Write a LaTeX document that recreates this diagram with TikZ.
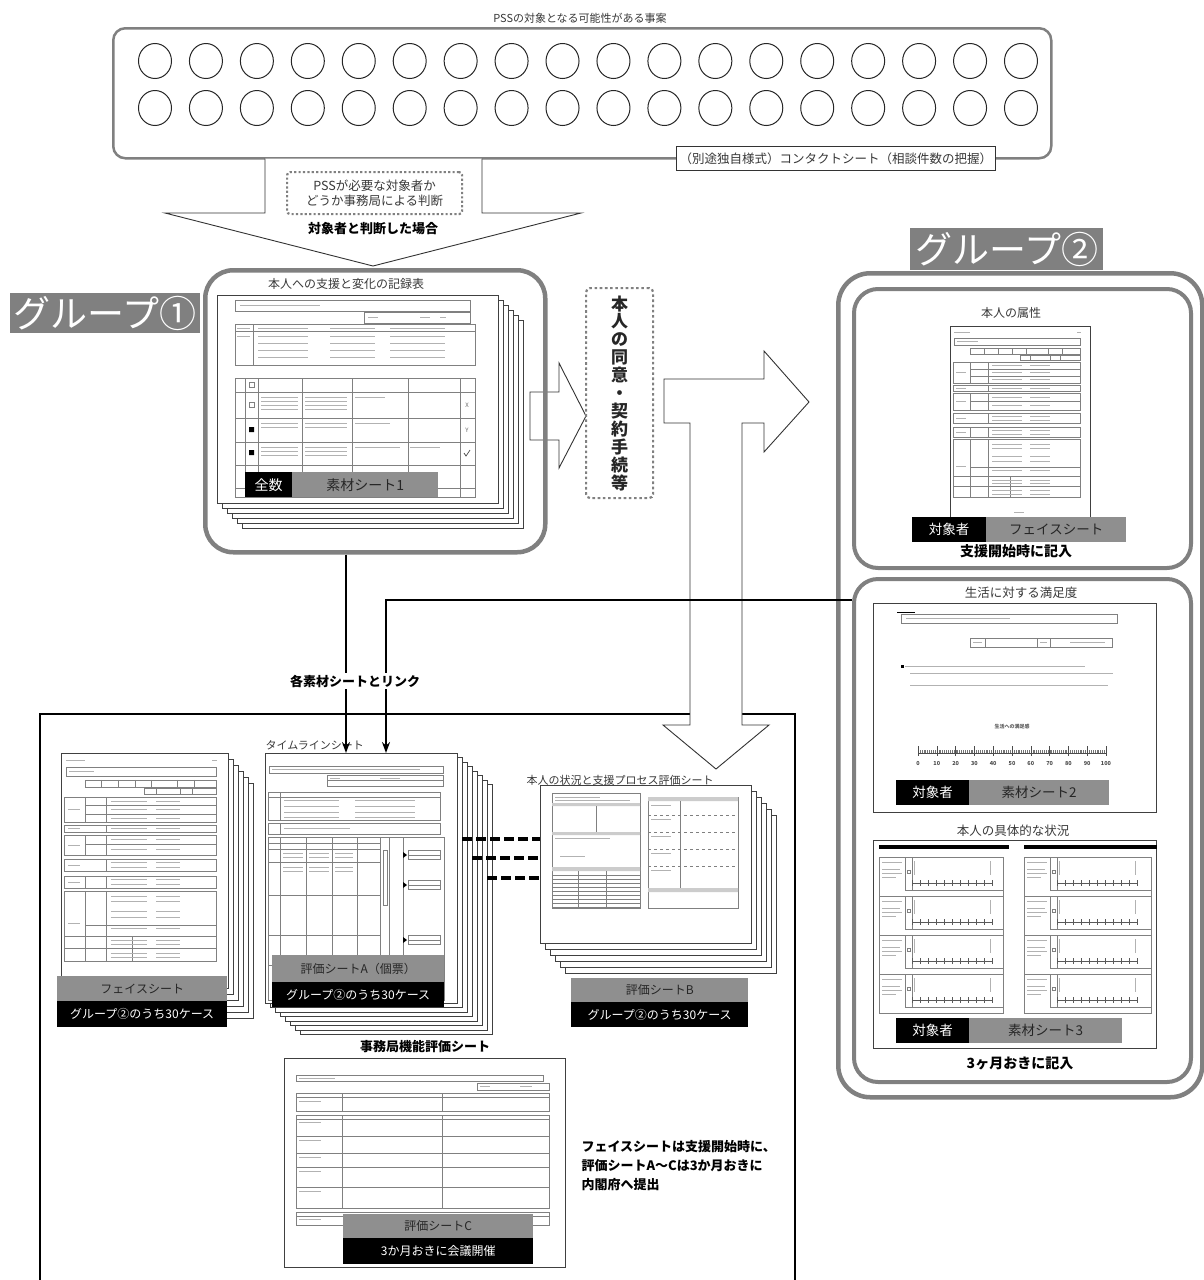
\documentclass[tikz,border=0pt]{standalone}
\usepackage{fontspec}
\setmainfont{Noto Sans CJK JP}
\usetikzlibrary{positioning, shapes.geometric, arrows.meta}

\definecolor{framegray}{gray}{0.5}
\definecolor{taggray}{gray}{0.56}
\definecolor{inkgray}{gray}{0.22}

\newcommand{\fsz}[1]{\fontsize{#1}{#1}\selectfont}

\tikzset{
    groupframe/.style={
        draw=framegray, % 灰色粗边框
        line width=4.5pt,
        rounded corners=28pt,
        anchor=north west
    },
    grouptag/.style={
        fill=framegray, % 灰底白字
        text=white,
        font=\fsz{37},
        inner sep=0pt,
        anchor=north west
    },
    sheetpage/.style={
        draw=black!75,
        fill=white,
        line width=0.7pt
    },
    graytag/.style={
        fill=taggray,
        text=black!85,
        inner sep=0pt,
        anchor=north west,
        font=\fsz{12}
    },
    blacktag/.style={
        fill=black,
        text=white,
        inner sep=0pt,
        anchor=north west,
        font=\fsz{12}
    },
    sheettitle/.style={text=inkgray, font=\fsz{11.5}},
    notetext/.style={text=black, font=\bfseries\fsz{13}},
    caseball/.style={ellipse, draw=black!85, line width=1pt, minimum width=33pt, minimum height=35pt},
    rule/.style={draw=black!50, line width=0.35pt},
    scrib/.style={draw=black!30, line width=1pt},
    link/.style={line width=2.6pt, -{Stealth[length=11pt,width=8pt]}},
    dashlink/.style={line width=3.5pt, dash pattern=on 10pt off 4pt},
    bigarrow/.style={draw=black!80, fill=white, line width=0.9pt, line join=miter}
}

% 缩略的フェイスシート (140 x 192)
\newcommand{\facebody}{%
    \draw[scrib] (4,6) -- (20,6) (127,6) -- (131,6);
    \draw[rule] (4,12) rectangle (130,19);
    \draw[scrib] (7,15.5) -- (28,15.5);
    \draw[rule] (20,22) rectangle (130,28) (70,29) rectangle (130,34);
    \foreach \xx in {34,48,62,76,98,112} \draw[rule] (\xx,22) -- (\xx,28);
    \foreach \xx in {80,100,110} \draw[rule] (\xx,29) -- (\xx,34);
    \foreach \ya/\yb in {36/57, 59/65, 67/84, 87/97, 101/111, 113/171}
        \draw[rule] (3,\ya) rectangle (130,\yb) (38,\ya) -- (38,\yb);
    \draw[rule] (20,36) -- (20,57) (20,43) -- (130,43) (20,50) -- (130,50);
    \draw[rule] (20,67) -- (20,84) (20,75) -- (130,75);
    \draw[rule] (20,101) -- (20,111);
    \draw[rule] (20,113) -- (20,171) (20,141) -- (130,141) (3,150) -- (130,150) (3,160) -- (130,160) (60,150) -- (60,171);
    \foreach \yy in {39.5,46.5,53.5,62,71,79,90,94,104,108,118,122,130,135,144,154,157,164,168}
        \draw[scrib] (42,\yy) -- ++(30,0) (80,\yy) -- ++(20,0);
    \foreach \yy in {46.5,62,75.5,92,106,140}
        \draw[scrib] (6,\yy) -- ++(10,0);
    \draw[scrib] (64,186) -- (74,186);
}

\begin{document}
\begin{tikzpicture}[x=1pt, y=-1pt]
\useasboundingbox (0,0) rectangle (1203,1280);

% 事案一覧
\node[draw=framegray, line width=2.5pt, rounded corners=12pt, minimum width=938pt, minimum height=130pt, anchor=north west] (cases) at (112,27) {};
\node[sheettitle, font=\fsz{11}, anchor=south] (casestitle) at (580,27) {PSSの対象となる可能性がある事案};
\foreach \r/\yy in {1/61, 2/108}
    \foreach \i in {0,...,17}
        \node[caseball] (case\r-\i) at ({155+50.94*\i}, \yy) {};
\node[draw=black!80, fill=white, line width=0.8pt, minimum width=319pt, minimum height=24pt, anchor=north west, font=\fsz{12.5}, text=inkgray] (contact) at (676,146) {（別途独自様式）コンタクトシート（相談件数の把握）};

% 判断の矢印
\draw[bigarrow] (265,158.5) -- (265,213) -- (165,213) -- (373,266) -- (581,213) -- (482,213) -- (482,158.5);
\node[draw=framegray, line width=2.2pt, dash pattern=on 2.2pt off 2.2pt, rounded corners=3pt, minimum width=175pt, minimum height=42pt, anchor=north west, align=center, text=inkgray, font={\fontsize{12.5}{15.5}\selectfont}] (judge) at (286,171) {PSSが必要な対象者か\\どうか事務局による判断};
\node[notetext] (judged) at (373,229) {対象者と判断した場合};

% 下部の枠
\draw[line width=1.6pt] (40,1290) -- (40,714) -- (795,714) -- (795,1290);

% グループ①
\draw[bigarrow] (530,392) -- (559,392) -- (559,363) -- (586,416) -- (559,468) -- (559,440) -- (530,440) -- cycle;
\node[groupframe, minimum width=340pt, minimum height=282pt] (g1box) at (203,268) {};
\node[grouptag, minimum width=190pt, minimum height=40pt] (g1tag) at (10,293) {グループ①};
\node[sheettitle, font=\fsz{12}] (rectitle) at (346,284) {本人への支援と変化の記録表};
\foreach \k in {5,4,...,1}
    \draw[sheetpage] ({217+5*\k},{295+5*\k}) rectangle ++(281,208);
\node[sheetpage, minimum width=281pt, minimum height=208pt, anchor=north west] (rec) at (217,295) {};
\draw[rule] (235,300) rectangle (470,311) (364,312) rectangle (470,323);
\draw[rule] (235,324) rectangle (475,365) (253,324) -- (253,365) (235,331) -- (475,331);
\draw[rule] (235,378) rectangle (475,497);
\foreach \xx in {245,258,302,352,408,460} \draw[rule] (\xx,378) -- (\xx,497);
\foreach \yy in {392,418,442,465,488} \draw[rule] (235,\yy) -- (475,\yy);
\draw[scrib] (240,305.5) -- (320,305.5) (368,317) -- (378,317) (420,317) -- (430,317) (440,317) -- (446,317);
\foreach \yy in {328,336,343,350,357}
    \draw[scrib] (258,\yy) -- ++(50,0) (330,\yy) -- ++(45,0) (390,\yy) -- ++(55,0);
\draw[scrib] (237,328) -- (250,328) (237,336) -- (250,336);
\foreach \yy in {397,401,405,409,423,427,447,451,455}
    \draw[scrib] (261,\yy) -- ++(37,0) (305,\yy) -- ++(42,0);
\draw[scrib] (355,397) -- (385,397) (355,423) -- (390,423) (355,447) -- (400,447) (410,447) -- (440,447);
\draw[rule] (249,382) rectangle ++(5,5) (249,402) rectangle ++(5,5);
\fill (249,427) rectangle ++(5,5) (249,450) rectangle ++(5,5);
\node[font=\fsz{6}, text=black!60] (markx) at (467,405) {X};
\node[font=\fsz{6}, text=black!60] (marky) at (467,430) {Y};
\draw[black!70, line width=0.7pt] (464,453) -- (466,456) -- (470,450);
\node[blacktag, font=\fsz{14}, minimum width=47pt, minimum height=25pt] (all) at (245,472) {全数};
\node[graytag, font=\fsz{14}, minimum width=146pt, minimum height=25pt] (mat1) at (292,472) {素材シート1};

% 同意
\node[draw=framegray, line width=2.2pt, dash pattern=on 2.6pt off 2.6pt, rounded corners=4pt, minimum width=67pt, minimum height=210pt, anchor=north west, align=center, text=black!85, font={\bfseries\fontsize{17}{17.9}\selectfont}] (consent) at (585,287) {本\\人\\の\\同\\意\\・\\契\\約\\手\\続\\等};

% T字の矢印
\draw[bigarrow] (664,379) -- (764,379) -- (764,351) -- (809,402) -- (764,452) -- (764,423) -- (742,423) -- (742,725) -- (769,725) -- (716,769) -- (663,725) -- (690,725) -- (690,423) -- (664,423) -- cycle;

% グループ②
\node[groupframe, minimum width=364pt, minimum height=824pt, rounded corners=32pt] (g2box) at (836,271) {};
\node[grouptag, minimum width=193pt, minimum height=42pt] (g2tag) at (910,228) {グループ②};
\node[groupframe, line width=4pt, minimum width=337pt, minimum height=279pt, rounded corners=24pt] (g2boxA) at (852,287) {};
\node[groupframe, line width=4pt, minimum width=337pt, minimum height=503pt, rounded corners=24pt] (g2boxB) at (852,577) {};

% 本人の属性
\node[sheettitle, font=\fsz{12}] (attrtitle) at (1011,313) {本人の属性};
\node[sheetpage, minimum width=140pt, minimum height=192pt, anchor=north west] (face2) at (950,326) {};
\begin{scope}[shift={(950,326)}]
    \facebody
\end{scope}
\node[blacktag, font=\fsz{13.5}, minimum width=74pt, minimum height=25pt] (obj1) at (912,517) {対象者};
\node[graytag, font=\fsz{13.5}, minimum width=140pt, minimum height=25pt] (facetag2) at (986,517) {フェイスシート};
\node[notetext, font=\bfseries\fsz{14}] (atstart) at (1016,551) {支援開始時に記入};

% 生活に対する満足度
\node[sheettitle, font=\fsz{12.5}] (sattitle) at (1021,593) {生活に対する満足度};
\node[sheetpage, minimum width=283pt, minimum height=209pt, anchor=north west] (sat) at (873,603) {};
\draw[line width=1pt] (897,612) -- (915,612);
\draw[rule] (901,614) rectangle (1117,623) (970,638) rectangle (1112,647);
\draw[rule] (985,638) -- (985,647) (1037,638) -- (1037,647) (1050,638) -- (1050,647);
\draw[scrib] (906,618.5) -- (1010,618.5) (973,642.5) -- (982,642.5) (1040,642.5) -- (1047,642.5) (1070,642.5) -- (1105,642.5);
\fill (901,664.5) rectangle ++(3,3);
\draw[scrib] (905,666) -- (1085,666) (910,673) -- (1113,673) (910,685) -- (1108,685);
\node[font=\bfseries\fsz{5}, text=black!65] (satcap) at (1012,727) {生活への満足感};
\draw[black!70, line width=0.6pt] (918,753) -- (1106,753);
\foreach \m in {0,...,100}
    \draw[black!55, line width=0.2pt] ({918+1.88*\m},750) -- ({918+1.88*\m},753);
\foreach \t [count=\c from 0] in {0,10,...,100} {
    \draw[black!70, line width=0.6pt] ({918+18.8*\c},746) -- ({918+18.8*\c},756);
    \node[font=\bfseries\fsz{5.5}, text=black!70] (tick\c) at ({918+18.8*\c},763) {\t};
}
\node[blacktag, font=\fsz{13.5}, minimum width=73pt, minimum height=25pt] (obj2) at (896,780) {対象者};
\node[graytag, font=\fsz{13.5}, minimum width=140pt, minimum height=25pt] (mat2) at (969,780) {素材シート2};

% 本人の具体的な状況
\node[sheettitle, font=\fsz{12.5}] (situtitle) at (1013,831) {本人の具体的な状況};
\node[sheetpage, minimum width=283pt, minimum height=208pt, anchor=north west] (situ) at (873,840) {};
\foreach \px/\pw/\ax/\bx in {879/124/912/992, 1024/127/1057/1137} {
    \fill ({\px},845) rectangle ++({\pw+6},3.5);
    \foreach \ry in {857,896,935,974} {
        \draw[rule] ({\px},\ry) rectangle ++(\pw,39);
        \draw[rule] ({\px+26},\ry) -- ++(0,33) ({\px+33},\ry) -- ++(0,33) ({\px+26},{\ry+33}) -- ({\px+\pw},{\ry+33});
        \draw[rule] ({\px+28},{\ry+13}) rectangle ++(3,3);
        \draw[black!65, line width=0.6pt] (\ax,{\ry+26}) -- (\bx,{\ry+26});
        \foreach \t in {0,...,10}
            \draw[black!65, line width=0.4pt] ({\ax+(\bx-\ax)*\t/10},{\ry+23}) -- ++(0,6);
        \draw[scrib] ({\ax+2},{\ry+4}) -- ++(0,14) ({\bx-2},{\ry+4}) -- ++(0,14);
        \draw[scrib] ({\px+3},{\ry+5}) -- ++(20,0) ({\px+3},{\ry+12}) -- ++(18,0) ({\px+3},{\ry+16}) -- ++(20,0) ({\px+3},{\ry+20}) -- ++(14,0);
    }
}
\node[blacktag, font=\fsz{13.5}, minimum width=73pt, minimum height=25pt] (obj3) at (896,1018) {対象者};
\node[graytag, font=\fsz{13.5}, minimum width=153pt, minimum height=25pt] (mat3) at (969,1018) {素材シート3};
\node[notetext, font=\bfseries\fsz{14}] (every3) at (1020,1063) {3ヶ月おきに記入};

% フェイスシート (下部)
\foreach \k in {5,4,...,1}
    \draw[sheetpage] ({61+5*\k},{753+6*\k}) rectangle ++(167,235);
\node[sheetpage, minimum width=167pt, minimum height=235pt, anchor=north west] (face1) at (61,753) {};
\begin{scope}[shift={(61,753)}, xscale=1.19, yscale=1.22]
    \facebody
\end{scope}
\node[graytag, minimum width=170pt, minimum height=25pt] (facetag1) at (57,976) {フェイスシート};
\node[blacktag, minimum width=170pt, minimum height=26pt] (grp1) at (57,1001) {グループ②のうち30ケース};

% タイムラインシート
\node[sheettitle, font=\fsz{11}, anchor=west] (tltitle) at (262,745) {タイムラインシート};
\foreach \k in {7,6,...,1}
    \draw[sheetpage] ({265+5*\k},{753+4.5*\k}) rectangle ++(192,250);
\node[sheetpage, minimum width=192pt, minimum height=250pt, anchor=north west] (tl) at (265,753) {};
\draw[rule] (269,766) rectangle (443,773) (327,775) rectangle (443,786) (327,780.5) -- (443,780.5);
\draw[rule] (268,792) rectangle (440,820) (280,792) -- (280,820) (268,797) -- (440,797);
\draw[rule] (268,823) rectangle (440,834) (280,823) -- (280,834);
\draw[rule] (268,837) rectangle (444,1000);
\foreach \xx in {280,306,332,357,380,389,403} \draw[rule] (\xx,837) -- (\xx,1000);
\foreach \yy in {843,849,862,895,935,965} \draw[rule] (268,\yy) -- (380,\yy);
\draw[rule] (383,850) rectangle (387,905);
\foreach \yy in {855,885,940} {
    \fill (403,{\yy-3}) -- (407,\yy) -- (403,{\yy+3}) -- cycle;
    \draw[rule] (408,{\yy-5}) rectangle (440,{\yy+4}) (408,\yy) -- (440,\yy);
}
\draw[scrib] (272,769.5) -- (420,769.5) (330,778) -- (340,778) (380,778) -- (400,778);
\foreach \yy in {800,806,812,817}
    \draw[scrib] (284,\yy) -- ++(55,0) (355,\yy) -- ++(60,0);
\draw[scrib] (284,828) -- (350,828);
\foreach \yy in {853,857,867,871}
    \draw[scrib] (283,\yy) -- ++(20,0) (309,\yy) -- ++(20,0) (335,\yy) -- ++(18,0);
\node[graytag, minimum width=172pt, minimum height=27pt] (evatag) at (272,955) {評価シートA（個票）};
\node[blacktag, minimum width=172pt, minimum height=25pt] (grp2) at (272,982) {グループ②のうち30ケース};

% 評価シートB
\node[sheettitle, font=\fsz{11}] (evbtitle) at (620,780) {本人の状況と支援プロセス評価シート};
\foreach \k in {5,4,...,1}
    \draw[sheetpage] ({540+5*\k},{785+6*\k}) rectangle ++(211,158);
\node[sheetpage, minimum width=211pt, minimum height=158pt, anchor=north west] (evb) at (540,785) {};
\draw[rule] (552,793) rectangle (640,908);
\fill[black!20] (552,803) rectangle (640,806) (552,832) rectangle (640,835) (552,867) rectangle (640,871);
\draw[rule] (596,806) -- (596,832) (578,871) -- (578,908) (606,871) -- (606,908);
\foreach \yy in {875,879,...,907} \draw[rule] (552,\yy) -- (640,\yy);
\draw[scrib] (555,797) -- (600,797) (555,800) -- (630,800) (555,838) -- (610,838) (560,856) -- (585,856);
\draw[rule] (648,797) rectangle (738,908);
\fill[black!20] (648,797) rectangle (738,801) (648,888) rectangle (738,892);
\draw[rule] (680,801) -- (680,888);
\foreach \yy in {815,832,849,866} \draw[rule, dashed] (648,\yy) -- (738,\yy);
\foreach \yy in {805,819,836,853,870} \draw[scrib] (651,\yy) -- ++(20,0);
\node[graytag, minimum width=177pt, minimum height=24pt] (evbtag) at (571,978) {評価シートB};
\node[blacktag, minimum width=177pt, minimum height=25pt] (grp3) at (571,1002) {グループ②のうち30ケース};

% 事務局機能評価シート
\node[notetext] (evctitle) at (425,1047) {事務局機能評価シート};
\node[sheetpage, minimum width=281pt, minimum height=209pt, anchor=north west] (evc) at (284,1058) {};
\draw[rule] (296,1075) rectangle (543,1081) (477,1083) rectangle (549,1090);
\draw[rule] (296,1093) rectangle (549,1111) (296,1097) -- (549,1097) (342,1093) -- (342,1111) (442,1093) -- (442,1111);
\draw[rule] (296,1115) rectangle (549,1208) (296,1119) -- (549,1119) (342,1115) -- (342,1208) (442,1115) -- (442,1208);
\foreach \yy in {1136,1153,1167,1187} \draw[rule] (296,\yy) -- (549,\yy);
\draw[rule] (296,1212) rectangle (549,1225) (296,1216) -- (549,1216);
\draw[scrib] (299,1078) -- (335,1078) (480,1086.5) -- (490,1086.5) (520,1086.5) -- (532,1086.5);
\foreach \yy in {1101,1122,1140,1157,1171,1191,1219} \draw[scrib] (299,\yy) -- ++(22,0);
\node[graytag, minimum width=190pt, minimum height=24pt] (evctag) at (343,1214) {評価シートC};
\node[blacktag, minimum width=190pt, minimum height=26pt] (meeting) at (343,1238) {3か月おきに会議開催};

% 提出の説明
\node[notetext, anchor=north west, align=left, font={\bfseries\fontsize{13}{19}\selectfont}] (submit) at (578,1137) {フェイスシートは支援開始時に、\\評価シートA～Cは3か月おきに\\内閣府へ提出};

% 各素材シートとリンク
\coordinate (lkA) at (346,600);
\coordinate (lkB) at (386,600);
\draw[link] (g1box.south -| lkA) -- (tl.north -| lkA);
\draw[link] (g2boxB.west |- lkB) -- (lkB) -- (tl.north -| lkB);
\node[notetext, fill=white, inner sep=2pt] (linklabel) at (355,681) {各素材シートとリンク};

% タイムラインと評価シートB
\coordinate (dA) at (462,839);
\coordinate (dB) at (472,858);
\coordinate (dC) at (487,878);
\foreach \d in {dA,dB,dC}
    \draw[dashlink] (\d) -- (evb.west |- \d);

\end{tikzpicture}
\end{document}
